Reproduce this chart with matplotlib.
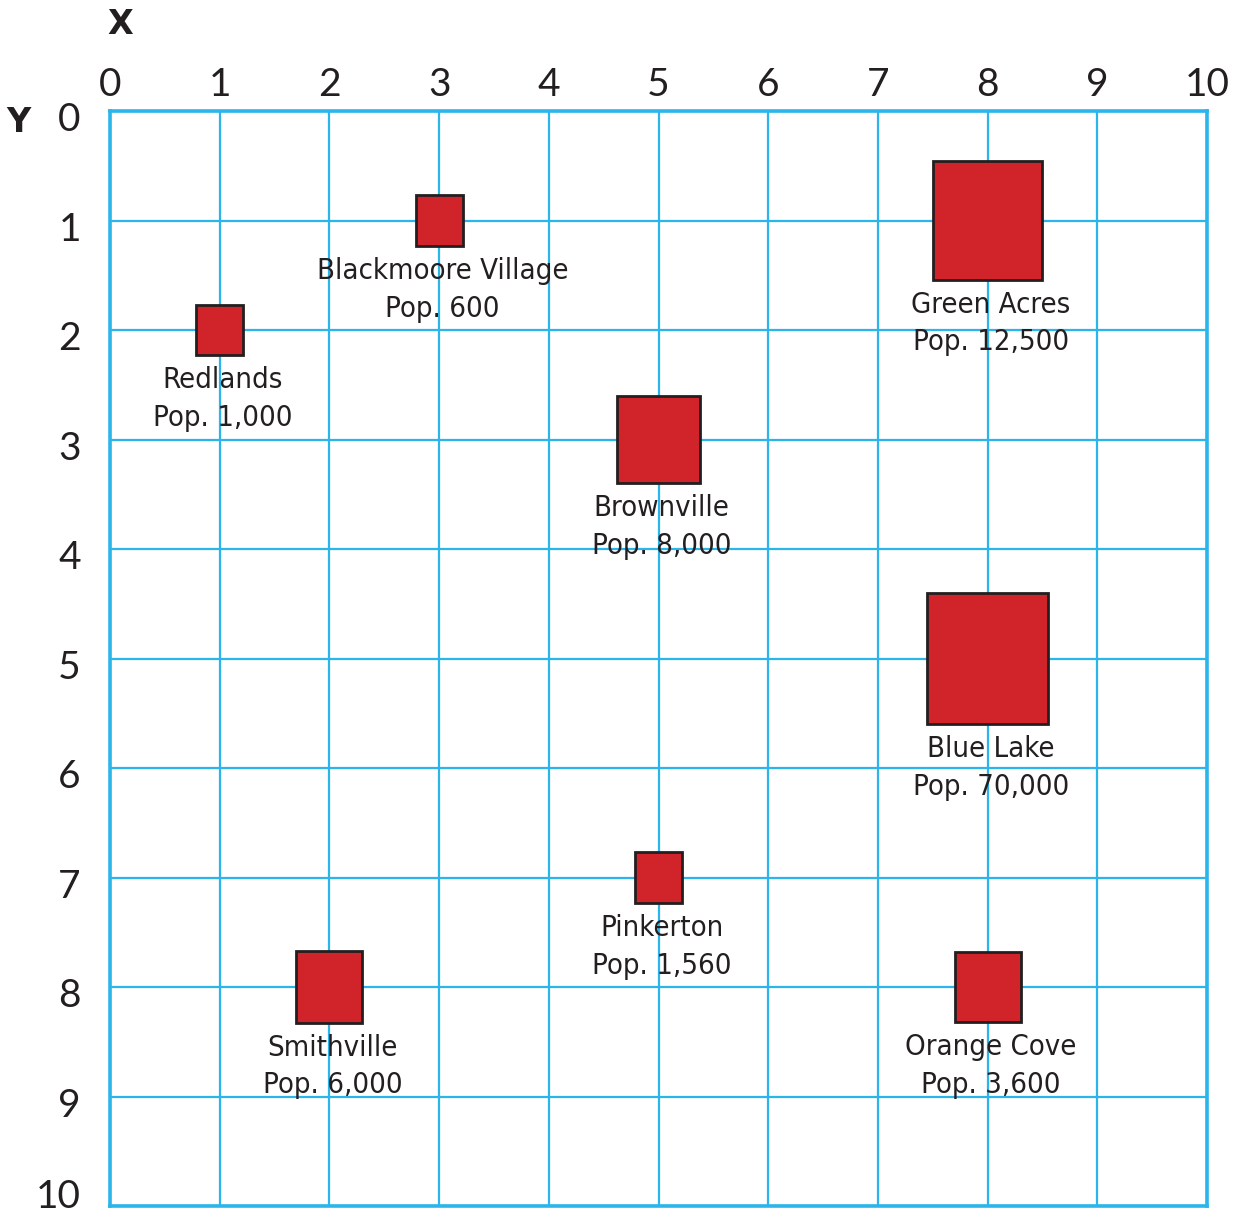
import matplotlib
matplotlib.use("Agg")
import matplotlib.pyplot as plt
from matplotlib.patches import Rectangle
from matplotlib.transforms import offset_copy

# towns: name, grid position, population label, box width/height (grid units)
towns = ["Blackmoore Village", "Redlands", "Green Acres", "Brownville",
         "Blue Lake", "Pinkerton", "Smithville", "Orange Cove"]
town_x = [3, 1, 8, 5, 8, 5, 2, 8]
town_y = [1, 2, 1, 3, 5, 7, 8, 8]
populations = ["600", "1,000", "12,500", "8,000", "70,000", "1,560", "6,000", "3,600"]
box_w = [0.43, 0.43, 1.0, 0.75, 1.11, 0.43, 0.6, 0.6]
box_h = [0.46, 0.46, 1.08, 0.8, 1.2, 0.46, 0.65, 0.64]
ticks = list(range(0, 11))

grid_color = "#2bb5ea"
ink = "#231f20"

fig = plt.figure(figsize=(12.41, 12.15), dpi=100)
ax = fig.add_axes([110 / 1241, 1 - 1206 / 1215, 1097 / 1241, 1095 / 1215])
ax.set_xlim(0, 10)
ax.set_ylim(10, 0)
ax.set_xticks(ticks)
ax.set_yticks(ticks)
ax.xaxis.tick_top()
ax.tick_params(length=0, labelcolor=ink)
ax.tick_params(axis="x", pad=6)
ax.tick_params(axis="y", pad=21)
for lab in ax.get_xticklabels() + ax.get_yticklabels():
    lab.set_fontfamily(["Lato", "DejaVu Sans"])
    lab.set_fontsize(28)
# nudge y labels down a little, bottom "10" up so it stays inside
ylabs = ax.get_yticklabels()
for lab in ylabs[:-1]:
    lab.set_transform(offset_copy(lab.get_transform(), fig=fig, y=-4, units="points"))
ylabs[-1].set_transform(offset_copy(ylabs[-1].get_transform(), fig=fig, y=9, units="points"))

ax.grid(True, color=grid_color, linewidth=1.6)
ax.set_axisbelow(True)
for s in ax.spines.values():
    s.set_color(grid_color)
    s.set_linewidth(2.6)

for name, x, y, pop, w, h in zip(towns, town_x, town_y, populations, box_w, box_h):
    ax.add_patch(Rectangle((x - w / 2, y - h / 2), w, h, facecolor="#d0232a",
                           edgecolor=ink, linewidth=2, zorder=3))
    ax.text(x + 0.03, y + h / 2 + 0.1, f"{name}\nPop. {pop}", ha="center", va="top",
            fontsize=21, family=["Liberation Sans Narrow", "DejaVu Sans"],
            fontstretch="condensed", color=ink, linespacing=1.45, zorder=4)

fig.text(120 / 1241, 1 - 25 / 1215, "X", ha="center", va="center",
         fontsize=24, fontweight="bold", color=ink)
fig.text(18 / 1241, 1 - 122 / 1215, "Y", ha="center", va="center",
         fontsize=24, fontweight="bold", color=ink)

fig.savefig("out.png", dpi=100)
